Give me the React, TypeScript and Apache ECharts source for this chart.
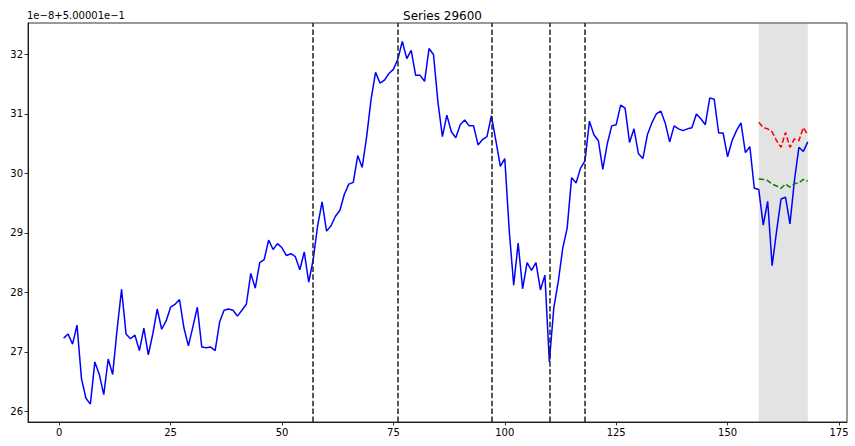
import React, { useEffect, useRef } from "react";
import * as echarts from "echarts";

const TITLE = "Series 29600";
const OFFSET_TEXT = "1e\u22128+5.00001e\u22121";
const X_TICKS = [0, 25, 50, 75, 100, 125, 150, 175];
const Y_TICKS = [26, 27, 28, 29, 30, 31, 32];
const BLUE_START = 1;
const BLUE = [
  27.23, 27.3, 27.13, 27.45, 26.55, 26.22, 26.12, 26.83, 26.62, 26.28,
  26.88, 26.62, 27.38, 28.05, 27.3, 27.22, 27.28, 27.02, 27.4, 26.95,
  27.3, 27.72, 27.38, 27.52, 27.75, 27.8, 27.88, 27.4, 27.1, 27.42,
  27.75, 27.08, 27.07, 27.08, 27.02, 27.5, 27.7, 27.72, 27.7, 27.6,
  27.7, 27.8, 28.32, 28.07, 28.5, 28.55, 28.88, 28.72, 28.82, 28.75,
  28.62, 28.65, 28.6, 28.38, 28.68, 28.17, 28.55, 29.12, 29.52, 29.03,
  29.12, 29.28, 29.38, 29.65, 29.82, 29.85, 30.3, 30.1, 30.62, 31.25,
  31.7, 31.52, 31.57, 31.68, 31.75, 31.92, 32.22, 31.93, 32.07, 31.65,
  31.65, 31.55, 32.1, 32.0, 31.2, 30.62, 30.98, 30.7, 30.6, 30.82,
  30.9, 30.8, 30.8, 30.48, 30.57, 30.62, 30.97, 30.55, 30.12, 30.25,
  29.04, 28.12, 28.83, 28.06, 28.5, 28.37, 28.5, 28.04, 28.29, 26.83,
  27.74, 28.18, 28.74, 29.08, 29.93, 29.84, 30.09, 30.21, 30.88, 30.65,
  30.55, 30.07, 30.5, 30.8, 30.82, 31.15, 31.1, 30.52, 30.75, 30.33,
  30.25, 30.65, 30.85, 31.0, 31.05, 30.85, 30.53, 30.8, 30.75, 30.72,
  30.75, 30.77, 31.0, 30.92, 30.82, 31.27, 31.25, 30.68, 30.68, 30.28,
  30.55, 30.72, 30.85, 30.35, 30.45, 29.75, 29.73, 29.13, 29.53, 28.45,
  29.03, 29.57, 29.6, 29.15, 29.88, 30.44, 30.37, 30.53,
];
const FC_START = 157;
const RED = [30.86, 30.77, 30.75, 30.7, 30.55, 30.44, 30.69, 30.44, 30.58, 30.55, 30.77, 30.65];
const GREEN = [29.91, 29.9, 29.88, 29.82, 29.79, 29.75, 29.82, 29.77, 29.83, 29.84, 29.9, 29.87];
const VLINES = [57, 76, 97, 110, 118];
const SPAN = [157, 168];

const FONT = "DejaVu Sans";

export default function App() {
  const ref = useRef<HTMLDivElement>(null);
  useEffect(() => {
    if (!ref.current) return;
    const chart = echarts.init(ref.current, undefined, { renderer: "svg" });
    const blueData = BLUE.map((v, i) => [BLUE_START + i, v]);
    const redData = RED.map((v, i) => [FC_START + i, v]);
    const greenData = GREEN.map((v, i) => [FC_START + i, v]);
    const axisCommon = {
      axisLine: { show: true, onZero: false, lineStyle: { color: "#000", width: 0.8 } },
      splitLine: { show: false },
    };
    chart.setOption({
      animation: false,
      backgroundColor: "#fff",
      title: {
        text: TITLE,
        left: 437.5,
        textAlign: "center",
        top: 5,
        textStyle: { fontFamily: FONT, fontSize: 12, fontWeight: "normal", color: "#000" },
      },
      graphic: [
        {
          type: "text",
          left: 27,
          top: 10,
          style: { text: OFFSET_TEXT, font: `10px "${FONT}"`, fill: "#000" },
        },
      ],
      grid: {
        left: 28,
        right: 8,
        top: 23,
        bottom: 24,
        show: true,
        borderColor: "#000",
        borderWidth: 0.8,
        containLabel: false,
      },
      xAxis: {
        type: "value",
        min: -7.0,
        max: 176.8,
        ...axisCommon,
        axisTick: {
          show: true,
          inside: false,
          length: 3.5,
          customValues: X_TICKS,
          lineStyle: { color: "#000", width: 0.8 },
        },
        axisLabel: {
          customValues: X_TICKS,
          formatter: (v: number) => String(v),
          fontFamily: FONT,
          fontSize: 10,
          color: "#000",
          margin: 5,
        },
      },
      yAxis: {
        type: "value",
        min: 25.82,
        max: 32.53,
        ...axisCommon,
        axisTick: {
          show: true,
          inside: false,
          length: 3.5,
          customValues: Y_TICKS,
          lineStyle: { color: "#000", width: 0.8 },
        },
        axisLabel: {
          customValues: Y_TICKS,
          formatter: (v: number) => String(v),
          fontFamily: FONT,
          fontSize: 10,
          color: "#000",
          margin: 5,
        },
      },
      series: [
        {
          type: "line",
          data: blueData,
          showSymbol: false,
          lineStyle: { color: "#0000ff", width: 1.5 },
          z: 3,
          markArea: {
            silent: true,
            itemStyle: { color: "rgba(128,128,128,0.22)" },
            data: [[{ xAxis: SPAN[0] }, { xAxis: SPAN[1] }]],
          },
          markLine: {
            silent: true,
            symbol: ["none", "none"],
            label: { show: false },
            lineStyle: { color: "#222", width: 1.5, type: [5.5, 2.4] },
            data: VLINES.map((x) => ({ xAxis: x })),
          },
        },
        {
          type: "line",
          data: redData,
          showSymbol: false,
          lineStyle: { color: "#ff0000", width: 1.5, type: [5.5, 2.4] },
          z: 4,
        },
        {
          type: "line",
          data: greenData,
          showSymbol: false,
          lineStyle: { color: "#008000", width: 1.5, type: [5.5, 2.4] },
          z: 4,
        },
      ],
    });
    return () => chart.dispose();
  }, []);
  return (
    <div
      ref={ref}
      style={{ position: "fixed", left: 0, top: 0, width: 855, height: 446 }}
    />
  );
}
